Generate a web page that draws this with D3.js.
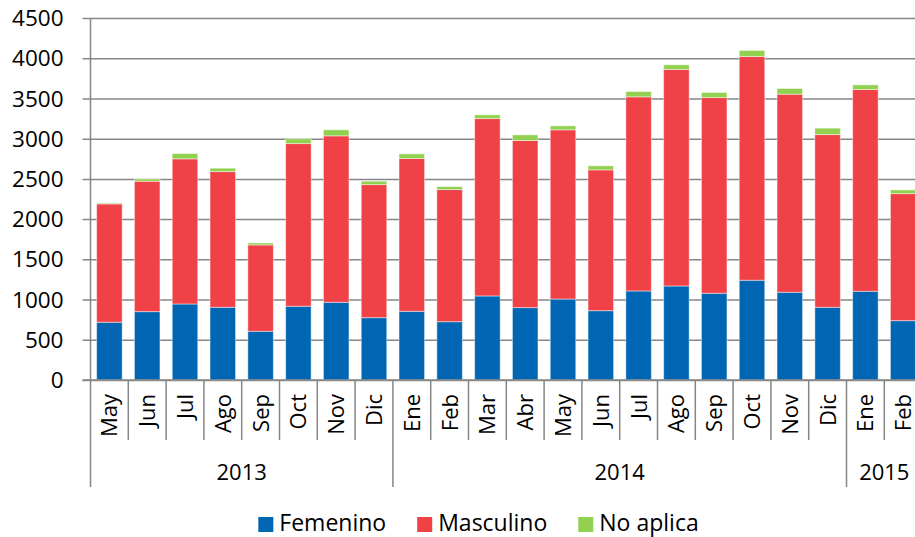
<!DOCTYPE html>
<html>
<head>
<meta charset="utf-8">
<script src="https://cdn.jsdelivr.net/npm/d3@7"></script>
<style>
  body { margin: 0; background: #fff; }
  svg text { font-family: "Open Sans", sans-serif; fill: #000; }
</style>
</head>
<body>
<svg id="chart" width="915" height="537"></svg>
<script>
// Months shown on the axis, with the year each one belongs to
const months = ["May", "Jun", "Jul", "Ago", "Sep", "Oct", "Nov", "Dic",
    "Ene", "Feb", "Mar", "Abr", "May", "Jun", "Jul", "Ago", "Sep", "Oct", "Nov", "Dic",
    "Ene", "Feb"];
const years = ["2013", "2013", "2013", "2013", "2013", "2013", "2013", "2013",
    "2014", "2014", "2014", "2014", "2014", "2014", "2014", "2014", "2014", "2014", "2014", "2014",
    "2015", "2015"];

// Series values
const femenino = [718, 850, 945, 904, 606, 917, 966, 775,
    854, 725, 1045, 900, 1007, 862, 1107, 1169, 1078, 1240, 1091, 904,
    1103, 738];
const masculino = [1471, 1621, 1804, 1687, 1073, 2022, 2069, 1654,
    1899, 1642, 2205, 2077, 2103, 1750, 2413, 2691, 2433, 2781, 2462, 2147,
    2508, 1579];
const noAplica = [10, 29, 66, 42, 25, 59, 75, 42,
    58, 37, 46, 70, 49, 50, 66, 58, 63, 75, 71, 80,
    58, 46];

const seriesNames = ["Femenino", "Masculino", "No aplica"];
const yTicks = [0, 500, 1000, 1500, 2000, 2500, 3000, 3500, 4000, 4500];

const colors = {"Femenino": "#0066b3", "Masculino": "#ef4146", "No aplica": "#92d050"};
const gridColor = "#868686";

const svg = d3.select("#chart");

const left = 90.5;
const step = 37.8;
const plotTop = 18;
const plotBottom = 380;

// Build the table for the stack
const rows = months.map((m, i) => ({
    key: i,
    "Femenino": femenino[i],
    "Masculino": masculino[i],
    "No aplica": noAplica[i]
}));

const x = d3.scaleBand()
    .domain(rows.map(d => d.key))
    .range([left, left + step * months.length])
    .paddingInner(0.325)
    .paddingOuter(0.1625);

const y = d3.scaleLinear()
    .domain([0, 4500])
    .range([plotBottom, plotTop]);

// Gridlines + y axis
const yAxis = d3.axisLeft(y)
    .tickValues(yTicks)
    .tickSize(-(915 - left + 8))
    .tickFormat(d3.format("d"));

const yg = svg.append("g")
    .attr("transform", `translate(${left - 8},0)`)
    .call(yAxis);
yg.select(".domain").remove();
yg.selectAll(".tick line")
    .attr("stroke", gridColor)
    .attr("stroke-width", 1.5);
yg.selectAll(".tick text")
    .attr("x", -19)
    .attr("dy", "0.34em")
    .style("font-size", "22.5px")
    .style("font-family", "'Open Sans', sans-serif");

// Stacked bars
const stack = d3.stack().keys(seriesNames);
const stacked = stack(rows);

svg.append("g")
    .selectAll("g")
    .data(stacked)
    .enter()
    .append("g")
    .attr("fill", d => colors[d.key])
    .selectAll("rect")
    .data(d => d)
    .enter()
    .append("rect")
    .attr("x", d => x(d.data.key))
    .attr("y", d => y(d[1]))
    .attr("width", x.bandwidth())
    .attr("height", d => y(d[0]) - y(d[1]))
    .attr("stroke", "rgba(255,255,255,0.45)")
    .attr("stroke-width", 1);

// Vertical axis line
svg.append("line")
    .attr("x1", left).attr("x2", left)
    .attr("y1", plotTop).attr("y2", 487)
    .attr("stroke", gridColor)
    .attr("stroke-width", 1.5);

// Horizontal axis line
svg.append("line")
    .attr("x1", left - 8).attr("x2", 915)
    .attr("y1", plotBottom).attr("y2", plotBottom)
    .attr("stroke", gridColor)
    .attr("stroke-width", 1.5);

// Category separators
const bounds = d3.range(1, months.length + 1);
svg.append("g")
    .selectAll("line")
    .data(bounds)
    .enter()
    .append("line")
    .attr("x1", i => left + i * step)
    .attr("x2", i => left + i * step)
    .attr("y1", plotBottom)
    .attr("y2", i => (i < months.length && years[i] !== years[i - 1]) ? 487 : 440)
    .attr("stroke", gridColor)
    .attr("stroke-width", 1.5);

// Month labels (rotated)
svg.append("g")
    .selectAll("text")
    .data(rows)
    .enter()
    .append("text")
    .attr("transform", d => `translate(${x(d.key) + x.bandwidth() / 2},394) rotate(-90)`)
    .attr("text-anchor", "end")
    .attr("dy", "0.36em")
    .style("font-size", "22px")
    .text(d => months[d.key]);

// Year labels, centred under their months
const yearGroups = d3.groups(d3.range(months.length), i => years[i]);
svg.append("g")
    .selectAll("text")
    .data(yearGroups)
    .enter()
    .append("text")
    .attr("x", d => {
        const first = d[1][0];
        const last = d[1][d[1].length - 1];
        return left + (first + last + 1) / 2 * step;
    })
    .attr("y", 480)
    .attr("text-anchor", "middle")
    .style("font-size", "22px")
    .text(d => d[0]);

// Legend
const legend = svg.append("g");
const items = legend.selectAll("g")
    .data(seriesNames)
    .enter()
    .append("g");

items.append("rect")
    .attr("width", 15)
    .attr("height", 15)
    .attr("y", 517)
    .attr("fill", d => colors[d]);

items.append("text")
    .attr("x", 21)
    .attr("y", 531)
    .style("font-size", "23px")
    .text(d => d);

let pos = 0;
const offsets = [];
items.each(function () {
    offsets.push(pos);
    const w = d3.select(this).select("text").node().getComputedTextLength();
    pos += 21 + w + 31;
});
const total = pos - 31;
const startX = 478.5 - total / 2;
items.attr("transform", (d, i) => `translate(${startX + offsets[i]},0)`);
</script>
</body>
</html>
